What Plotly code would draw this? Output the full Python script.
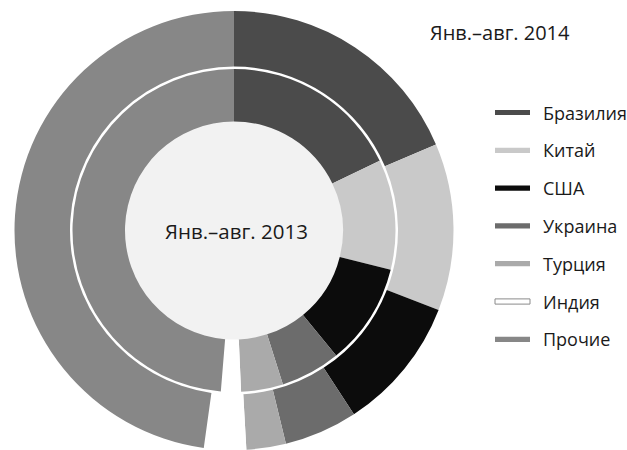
import plotly.graph_objects as go

W, H = 627, 450

countries = ["Бразилия", "Китай", "США", "Украина", "Турция", "Индия", "Прочие"]
share_2013 = [17.9, 11.0, 10.2, 6.0, 4.2, 2.0, 48.7]
share_2014 = [18.6, 12.3, 9.9, 5.4, 2.9, 3.1, 47.8]
colors = ["#4b4b4b", "#c9c9c9", "#0c0c0c", "#6c6c6c", "#aaaaaa", "#ffffff", "#878787"]
title_2014 = "Янв.–авг. 2014"
title_2013 = "Янв.–авг. 2013"

FONT = "Open Sans"
TXT = "#1a1a1a"

cx, cy = 234.0, 230.5
R_out, R_out_hole = 219.5, 164.0
R_in, R_in_hole = 161.5, 109.0
R_disk = 110.0


def dom(r):
    return dict(x=[(cx - r) / W, (cx + r) / W], y=[1 - (cy + r) / H, 1 - (cy - r) / H])


fig = go.Figure()

fig.add_trace(go.Pie(
    labels=["center"], values=[1], domain=dom(R_disk), sort=False,
    marker=dict(colors=["#f2f2f2"], line=dict(width=0)),
    textinfo="none", hoverinfo="skip", showlegend=False,
))
fig.add_trace(go.Pie(
    labels=countries, values=share_2013, domain=dom(R_in), hole=R_in_hole / R_in,
    sort=False, direction="clockwise", rotation=0,
    marker=dict(colors=colors, line=dict(width=0)),
    textinfo="none", showlegend=False, name="2013",
))
fig.add_trace(go.Pie(
    labels=countries, values=share_2014, domain=dom(R_out), hole=R_out_hole / R_out,
    sort=False, direction="clockwise", rotation=0,
    marker=dict(colors=colors, line=dict(width=0)),
    textinfo="none", showlegend=False, name="2014",
))

shapes = []
annotations = []
y0, dy = 112.5, 37.8
for i, (c, col) in enumerate(zip(countries, colors)):
    yc = y0 + dy * i
    is_white = col.lower() == "#ffffff"
    shapes.append(dict(
        type="rect", xref="paper", yref="paper",
        x0=495 / W, x1=530 / W, y0=1 - (yc + 2.6) / H, y1=1 - (yc - 2.6) / H,
        fillcolor=col, line=dict(color="#8a8a8a" if is_white else col, width=1 if is_white else 0),
    ))
    annotations.append(dict(
        text=c, xref="paper", yref="paper", x=541 / W, y=1 - yc / H,
        xanchor="left", yanchor="middle", showarrow=False,
        font=dict(family=FONT, size=18, color=TXT),
    ))

annotations.append(dict(
    text=title_2014, xref="paper", yref="paper", x=428 / W, y=1 - 32 / H,
    xanchor="left", yanchor="middle", showarrow=False,
    font=dict(family=FONT, size=20, color=TXT),
))
annotations.append(dict(
    text=title_2013, xref="paper", yref="paper", x=(cx + 3) / W, y=1 - cy / H,
    xanchor="center", yanchor="middle", showarrow=False,
    font=dict(family=FONT, size=20.5, color=TXT),
))

fig.update_layout(
    width=W, height=H,
    margin=dict(l=0, r=0, t=0, b=0),
    paper_bgcolor="white", plot_bgcolor="white",
    shapes=shapes, annotations=annotations,
    showlegend=False,
)

fig.write_html(
    "out.html",
    config={"displayModeBar": False},
    post_script="document.body.style.margin='0';document.body.style.overflow='hidden';",
)
